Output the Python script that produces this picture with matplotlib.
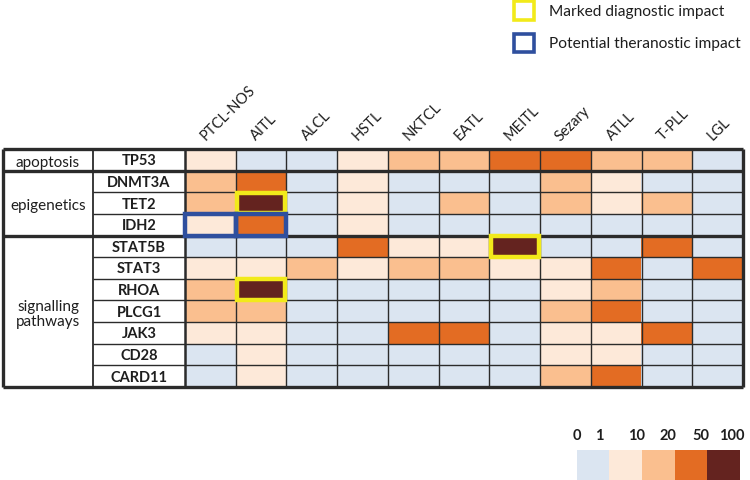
import matplotlib
matplotlib.use('Agg')
import matplotlib.pyplot as plt
from matplotlib.colors import ListedColormap
from matplotlib.patches import Rectangle
import numpy as np

plt.rcParams['font.family'] = ['Lato', 'DejaVu Sans']

# lymphoma subtypes (columns) and genes (rows)
subtypes = ['PTCL-NOS', 'AITL', 'ALCL', 'HSTL', 'NKTCL', 'EATL', 'MEITL',
            'Sezary', 'ATLL', 'T-PLL', 'LGL']
genes = ['TP53', 'DNMT3A', 'TET2', 'IDH2', 'STAT5B', 'STAT3', 'RHOA',
         'PLCG1', 'JAK3', 'CD28', 'CARD11']
groups = ['apoptosis', 'epigenetics', 'signalling\npathways']
group_size = [1, 3, 7]

# mutation frequency class: 0 = 0-1%, 1 = 1-10%, 2 = 10-20%, 3 = 20-50%, 4 = 50-100%
freq = [
    [1, 0, 0, 1, 2, 2, 3, 3, 2, 2, 0],  # TP53
    [2, 3, 0, 1, 0, 0, 0, 2, 1, 0, 0],  # DNMT3A
    [2, 4, 0, 1, 0, 2, 0, 2, 1, 2, 0],  # TET2
    [1, 3, 0, 1, 0, 0, 0, 0, 0, 0, 0],  # IDH2
    [0, 0, 0, 3, 1, 1, 4, 0, 0, 3, 0],  # STAT5B
    [1, 1, 2, 1, 2, 2, 1, 1, 3, 0, 3],  # STAT3
    [2, 4, 0, 0, 0, 0, 0, 1, 2, 0, 0],  # RHOA
    [2, 2, 0, 0, 0, 0, 0, 2, 3, 0, 0],  # PLCG1
    [1, 1, 0, 0, 3, 3, 0, 1, 1, 3, 0],  # JAK3
    [0, 1, 0, 0, 0, 0, 0, 1, 1, 0, 0],  # CD28
    [0, 1, 0, 0, 0, 0, 0, 2, 3, 0, 0],  # CARD11
]
bin_labels = ['0', '1', '10', '20', '50', '100']
colors = ['#dbe5f1', '#fde9d9', '#fabf8f', '#e36c23', '#64231f']

diagnostic = [('TET2', 'AITL'), ('RHOA', 'AITL'), ('STAT5B', 'MEITL')]
theranostic = [('IDH2', 'PTCL-NOS'), ('IDH2', 'AITL')]

cmap = ListedColormap(colors)
W, H = 750, 481
line_c = '#2b2b2b'
txt_c = '#1e1e1e'

fig = plt.figure(figsize=(W / 100, H / 100), dpi=100)

# heatmap
ax = fig.add_axes([185 / W, 1 - 388 / H, 558 / W, 238 / H])
ax.imshow(np.array(freq), cmap=cmap, vmin=-0.5, vmax=4.5, aspect='auto',
          extent=(0, len(subtypes), len(genes), 0), interpolation='nearest')
ax.set_xlim(0, len(subtypes))
ax.set_ylim(len(genes), 0)
ax.axis('off')

nr, nc = len(genes), len(subtypes)
gene_x = -1.813   # left edge of gene column
left_x = -3.59    # left edge of table

# horizontal lines
bounds = list(np.cumsum([0] + group_size))
for y in range(nr + 1):
    if y in bounds:
        ax.hlines(y, left_x, nc, color=line_c, lw=2.4, clip_on=False, zorder=3)
    else:
        ax.hlines(y, gene_x, nc, color=line_c, lw=1.0, clip_on=False, zorder=3)

# vertical lines
for x in range(1, nc):
    ax.vlines(x, 0, nr, color=line_c, lw=1.0, clip_on=False, zorder=3)
ax.vlines(0, 0, nr, color=line_c, lw=1.8, clip_on=False, zorder=3)
ax.vlines(nc, 0, nr, color=line_c, lw=2.4, clip_on=False, zorder=3)
ax.vlines(gene_x, 0, nr, color=line_c, lw=1.3, clip_on=False, zorder=3)
ax.vlines(left_x, 0, nr, color=line_c, lw=2.4, clip_on=False, zorder=3)

# column headers
for j, name in enumerate(subtypes):
    ax.text(j + 0.45, -0.3, name, rotation=45, rotation_mode='anchor',
            ha='left', va='bottom', fontsize=10.5, color=txt_c)

# gene labels
for i, g in enumerate(genes):
    ax.text(gene_x / 2, i + 0.52, g, ha='center', va='center',
            fontsize=10.5, fontweight='bold', color=txt_c)

# group labels
for k, grp in enumerate(groups):
    yc = (bounds[k] + bounds[k + 1]) / 2
    ax.text((left_x + gene_x) / 2, yc + 0.1, grp, ha='center', va='center',
            fontsize=11, color=txt_c, linespacing=1.15)

# highlighted cells
for g, s in diagnostic:
    ax.add_patch(Rectangle((subtypes.index(s) + 0.03, genes.index(g) + 0.03), 0.94, 0.94,
                           fill=False, edgecolor='#f2ea1a', lw=3.2, zorder=5, clip_on=False))
for g, s in theranostic:
    ax.add_patch(Rectangle((subtypes.index(s) + 0.0, genes.index(g) + 0.0), 1, 1,
                           fill=False, edgecolor='#2f4f9e', lw=3.2, zorder=5, clip_on=False))

# legend
lax = fig.add_axes([0, 0, 1, 1])
lax.set_xlim(0, W)
lax.set_ylim(H, 0)
lax.axis('off')
lax.add_patch(Rectangle((514, 2), 20, 19, fill=False, edgecolor='#f2ea1a', lw=2.6))
lax.add_patch(Rectangle((514, 35), 20, 18, fill=False, edgecolor='#2f4f9e', lw=2.6))
lax.text(549, 12, 'Marked diagnostic impact', va='center', ha='left', fontsize=11.2, color=txt_c)
lax.text(549, 44, 'Potential theranostic impact', va='center', ha='left', fontsize=11.2, color=txt_c)

# colour scale
cax = fig.add_axes([577 / W, 0, 163 / W, 30 / H])
cax.imshow(np.arange(len(colors)).reshape(1, -1), cmap=cmap, vmin=-0.5, vmax=4.5,
           aspect='auto', extent=(0, len(colors), 0, 1))
for sp in cax.spines.values():
    sp.set_visible(False)
cax.set_yticks([])
cax.xaxis.tick_top()
cax.set_xticks([0.0, 0.67, 1.84, 2.79, 3.8, 4.75])
cax.set_xticklabels(bin_labels, fontsize=10.5, fontweight='bold', color=txt_c)
cax.tick_params(axis='x', length=0, pad=6)

fig.savefig('out.png', dpi=100)
